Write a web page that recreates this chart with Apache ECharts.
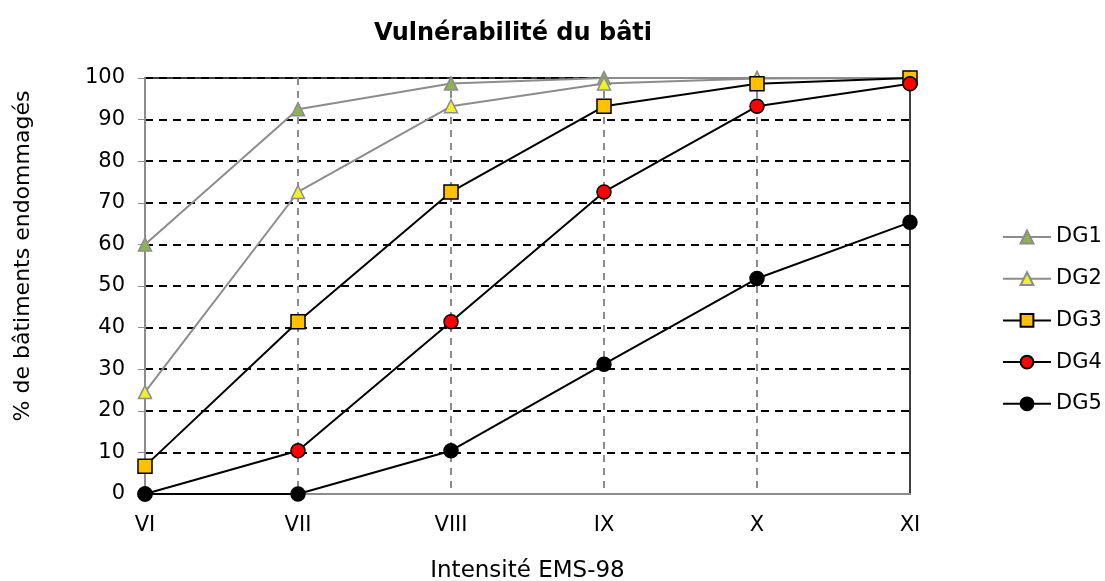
<!DOCTYPE html>
<html>
<head>
<meta charset="utf-8">
<script src="https://cdn.jsdelivr.net/npm/echarts@6/dist/echarts.min.js"></script>
<style>
  html, body { margin: 0; padding: 0; background: #fff; }
  #chart { width: 1105px; height: 581px; }
</style>
</head>
<body>
<div id="chart"></div>
<script>
  var intensities = ['VI', 'VII', 'VIII', 'IX', 'X', 'XI'];
  var dg1 = [60, 92.5, 98.7, 100, 100, 100];
  var dg2 = [24.5, 72.6, 93.2, 98.7, 99.9, 100];
  var dg3 = [6.7, 41.4, 72.6, 93.2, 98.6, 100];
  var dg4 = [0, 10.4, 41.4, 72.6, 93.2, 98.6];
  var dg5 = [0, 0, 10.4, 31.2, 51.8, 65.3];

  var chart = echarts.init(document.getElementById('chart'));
  var font = 'DejaVu Sans';

  function line(name, data, lineColor, symbol, fill, border, size) {
    return {
      name: name,
      type: 'line',
      data: data,
      symbol: symbol,
      symbolSize: size,
      lineStyle: { color: lineColor, width: 2 },
      itemStyle: { color: fill, borderColor: border, borderWidth: 1.5 },
      emphasis: { disabled: true }
    };
  }

  var option = {
    animation: false,
    textStyle: { fontFamily: font },
    title: {
      text: 'Vulnérabilité du bâti',
      left: 508,
      textAlign: 'center',
      top: 17,
      textStyle: { fontFamily: font, fontSize: 24, fontWeight: 'bold', color: '#000' }
    },
    legend: {
      orient: 'vertical',
      left: 997,
      top: 220,
      itemWidth: 48,
      itemHeight: 16,
      itemGap: 17.7,
      textStyle: { fontFamily: font, fontSize: 21, color: '#000', lineHeight: 24 },
      data: ['DG1', 'DG2', 'DG3', 'DG4', 'DG5']
    },
    grid: {
      left: 145,
      right: 195,
      top: 78,
      bottom: 87,
      outerBoundsMode: 'none',
      show: true,
      borderColor: '#000',
      borderWidth: 1.5
    },
    xAxis: {
      type: 'category',
      data: intensities,
      boundaryGap: false,
      name: 'Intensité EMS-98',
      nameLocation: 'middle',
      nameGap: 66,
      nameTextStyle: { fontFamily: font, fontSize: 23, color: '#000' },
      axisLine: { lineStyle: { color: '#8c8c8c', width: 2 } },
      axisTick: { show: false },
      axisLabel: { fontFamily: font, fontSize: 21, color: '#000', margin: 21 },
      splitLine: {
        show: true,
        interval: function (index) { return index > 0 && index < intensities.length - 1; },
        lineStyle: { color: '#8c8c8c', type: [7, 6], width: 2 }
      }
    },
    yAxis: {
      type: 'value',
      min: 0,
      max: 100,
      interval: 10,
      name: '% de bâtiments endommagés',
      nameLocation: 'middle',
      nameGap: 111,
      nameTextStyle: { fontFamily: font, fontSize: 22, color: '#000', padding: [0, 0, 0, 60] },
      axisLine: { show: true, lineStyle: { color: '#8c8c8c', width: 2 } },
      axisTick: { show: true, length: 7, lineStyle: { color: '#8c8c8c' } },
      axisLabel: { fontFamily: font, fontSize: 21, color: '#000', margin: 20 },
      splitLine: { show: true, lineStyle: { color: '#000', type: [8, 6], width: 2 } }
    },
    series: [
      line('DG1', dg1, '#8c8c8c', 'triangle', '#8db255', '#8c8c8c', 13),
      line('DG2', dg2, '#8c8c8c', 'triangle', '#eef02a', '#8c8c8c', 13),
      line('DG3', dg3, '#000', 'rect', '#ffc000', '#000', 14),
      line('DG4', dg4, '#000', 'circle', '#ff0000', '#000', 14),
      line('DG5', dg5, '#000', 'circle', '#000', '#000', 14)
    ]
  };

  chart.setOption(option);
  window.addEventListener('resize', function () {
    chart.resize();
  });
</script>
</body>
</html>
